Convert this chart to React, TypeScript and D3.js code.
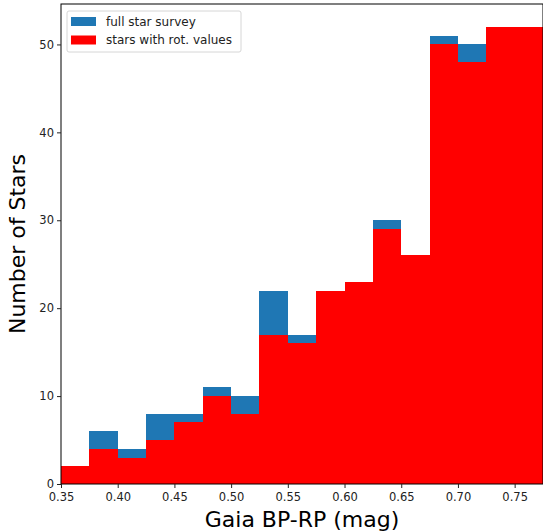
import { useEffect, useRef } from "react";
import * as d3 from "d3";

// bin edges (Gaia BP-RP, mag)
const binEdges = [
  0.35, 0.375, 0.4, 0.425, 0.45, 0.475, 0.5, 0.525, 0.55, 0.575, 0.6, 0.625,
  0.65, 0.675, 0.7, 0.725, 0.75, 0.775,
];
const fullSurvey = [2, 6, 4, 8, 8, 11, 10, 22, 17, 22, 23, 30, 26, 51, 50, 52, 52];
const withRot = [2, 4, 3, 5, 7, 10, 8, 17, 16, 22, 23, 29, 26, 50, 48, 52, 52];
const xTicks = [0.35, 0.4, 0.45, 0.5, 0.55, 0.6, 0.65, 0.7, 0.75];
const yTicks = [0, 10, 20, 30, 40, 50];

const seriesList = [
  { label: "full star survey", values: fullSurvey, color: "#1f77b4" },
  { label: "stars with rot. values", values: withRot, color: "#ff0000" },
];

export default function App() {
  const ref = useRef<SVGSVGElement>(null);

  useEffect(() => {
    const svg = d3.select(ref.current);
    svg.selectAll("*").remove();

    const W = 543;
    const H = 531;
    const margin = { top: 4, right: 0, bottom: 47, left: 61 };
    const font = "DejaVu Sans, sans-serif";

    const x = d3
      .scaleLinear()
      .domain([0.35, 0.775])
      .range([margin.left, W - margin.right]);
    const y = d3
      .scaleLinear()
      .domain([0, 52 * 1.05])
      .range([H - margin.bottom, margin.top]);

    const g = svg.append("g");

    seriesList.forEach((s) => {
      g.append("g")
        .selectAll("rect")
        .data(s.values)
        .join("rect")
        .attr("x", (_, i) => x(binEdges[i]))
        .attr("width", (_, i) => x(binEdges[i + 1]) - x(binEdges[i]))
        .attr("y", (d) => y(d))
        .attr("height", (d) => y(0) - y(d))
        .attr("fill", s.color)
        .attr("shape-rendering", "crispEdges");
    });

    // frame
    svg
      .append("rect")
      .attr("x", margin.left)
      .attr("y", margin.top)
      .attr("width", W - margin.right - margin.left)
      .attr("height", y(0) - margin.top)
      .attr("fill", "none")
      .attr("stroke", "#000")
      .attr("stroke-width", 1);

    const xAxis = svg
      .append("g")
      .attr("transform", `translate(0,${y(0)})`)
      .call(
        d3
          .axisBottom(x)
          .tickValues(xTicks)
          .tickFormat(d3.format(".2f"))
          .tickSize(4)
          .tickSizeOuter(0)
      );
    const yAxis = svg
      .append("g")
      .attr("transform", `translate(${margin.left},0)`)
      .call(d3.axisLeft(y).tickValues(yTicks).tickSize(4).tickSizeOuter(0));

    [xAxis, yAxis].forEach((a) => {
      a.select(".domain").remove();
      a.selectAll("text")
        .attr("font-family", font)
        .attr("font-size", 11.5)
        .attr("fill", "#222");
      a.selectAll("line").attr("stroke", "#222");
    });
    xAxis.selectAll("text").attr("dy", "0.71em").attr("y", 9);
    yAxis.selectAll("text").attr("x", -7);

    svg
      .append("text")
      .attr("x", (margin.left + W - margin.right) / 2)
      .attr("y", 527)
      .attr("text-anchor", "middle")
      .attr("font-family", font)
      .attr("font-size", 22)
      .attr("fill", "#000")
      .text("Gaia BP-RP (mag)");

    svg
      .append("text")
      .attr("transform", `translate(25,${(margin.top + y(0)) / 2}) rotate(-90)`)
      .attr("text-anchor", "middle")
      .attr("font-family", font)
      .attr("font-size", 22)
      .attr("fill", "#000")
      .text("Number of Stars");

    // legend
    const lg = svg.append("g").attr("transform", "translate(67,11)");
    lg.append("rect")
      .attr("width", 174)
      .attr("height", 41)
      .attr("rx", 2)
      .attr("fill", "#fff")
      .attr("fill-opacity", 0.8)
      .attr("stroke", "#d6d6d6");
    seriesList.forEach((s, i) => {
      lg.append("rect")
        .attr("x", 4)
        .attr("y", 6 + i * 18.5)
        .attr("width", 25)
        .attr("height", 9)
        .attr("fill", s.color);
      lg.append("text")
        .attr("x", 39)
        .attr("y", 14.5 + i * 18.5)
        .attr("font-family", font)
        .attr("font-size", 12)
        .attr("fill", "#222")
        .text(s.label);
    });
  }, []);

  return (
    <svg
      ref={ref}
      width={543}
      height={531}
      style={{ position: "absolute", left: 0, top: 0, background: "#fff" }}
    />
  );
}
